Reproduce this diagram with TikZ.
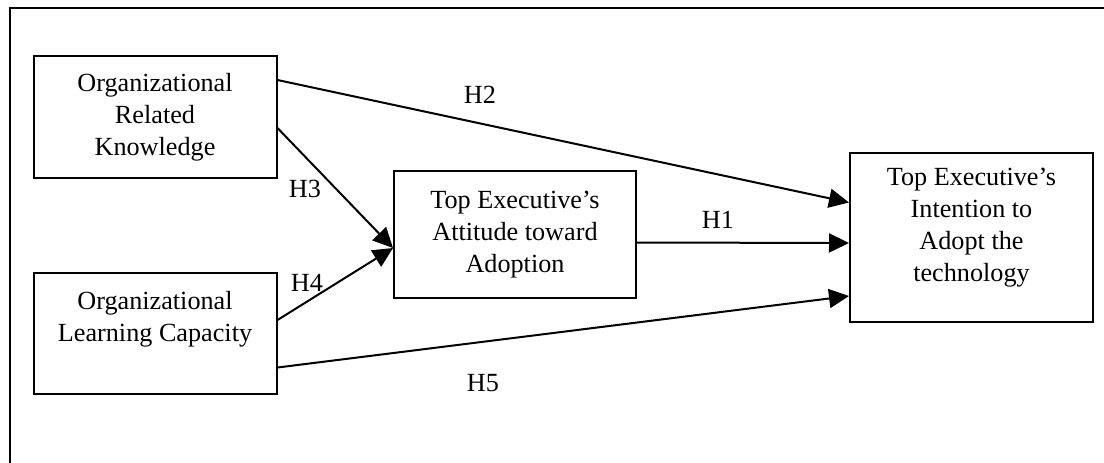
\documentclass[tikz,border=0pt]{standalone}
\usepackage{fontspec}
\setmainfont{Liberation Serif}
\usetikzlibrary{arrows.meta,calc}
\begin{document}
\begin{tikzpicture}[x=0.5pt,y=-0.5pt,
  box/.style={draw,line width=1pt,inner sep=0pt,align=center,
    font=\fontsize{13.1}{16}\selectfont},
  lab/.style={inner sep=0pt,font=\fontsize{13.1}{16}\selectfont},
  conn/.style={line width=1pt,-{Triangle[length=10pt,width=9.5pt]}},
  frame/.style={line width=1pt}]
\useasboundingbox (0,0) rectangle (1104,462);
\draw[frame] (10,470) -- (10,8) -- (1110,8);
\node[box,minimum width=121.5pt,minimum height=61pt] (A) at (155,117) {Organizational\\Related\\Knowledge};
\node[box,minimum width=121.5pt,minimum height=60.5pt] (B) at (155,333.5) {Organizational\\Learning Capacity\\[-4pt]\strut};
\node[box,minimum width=121pt,minimum height=63.5pt] (C) at (515,234.5) {Top Executive's\\Attitude toward\\Adoption};
\node[box,minimum width=121.5pt,minimum height=84.5pt] (D) at (971.5,237.5) {Top Executive's\\Intention to\\Adopt the\\technology\\[-8pt]\strut};
\draw[conn] ($(A.east)+(0,-37)$) -- ($(D.west)+(0,-35)$);
\draw[conn] ($(A.east)+(0,11)$) -- ($(C.west)+(0,13.5)$);
\draw[conn] ($(B.east)+(0,-13.5)$) -- ($(C.west)+(0,13.5)$);
\draw[conn] ($(C.east)+(0,8)$) -- ($(D.west)+(0,5.5)$);
\draw[conn] ($(B.east)+(0,34)$) -- ($(D.west)+(0,58.5)$);
\node[lab] (h2) at (480,95) {H2};
\node[lab] (h3) at (305,189) {H3};
\node[lab] (h4) at (307,283) {H4};
\node[lab] (h1) at (718,220) {H1};
\node[lab] (h5) at (483,383) {H5};
\end{tikzpicture}
\end{document}
